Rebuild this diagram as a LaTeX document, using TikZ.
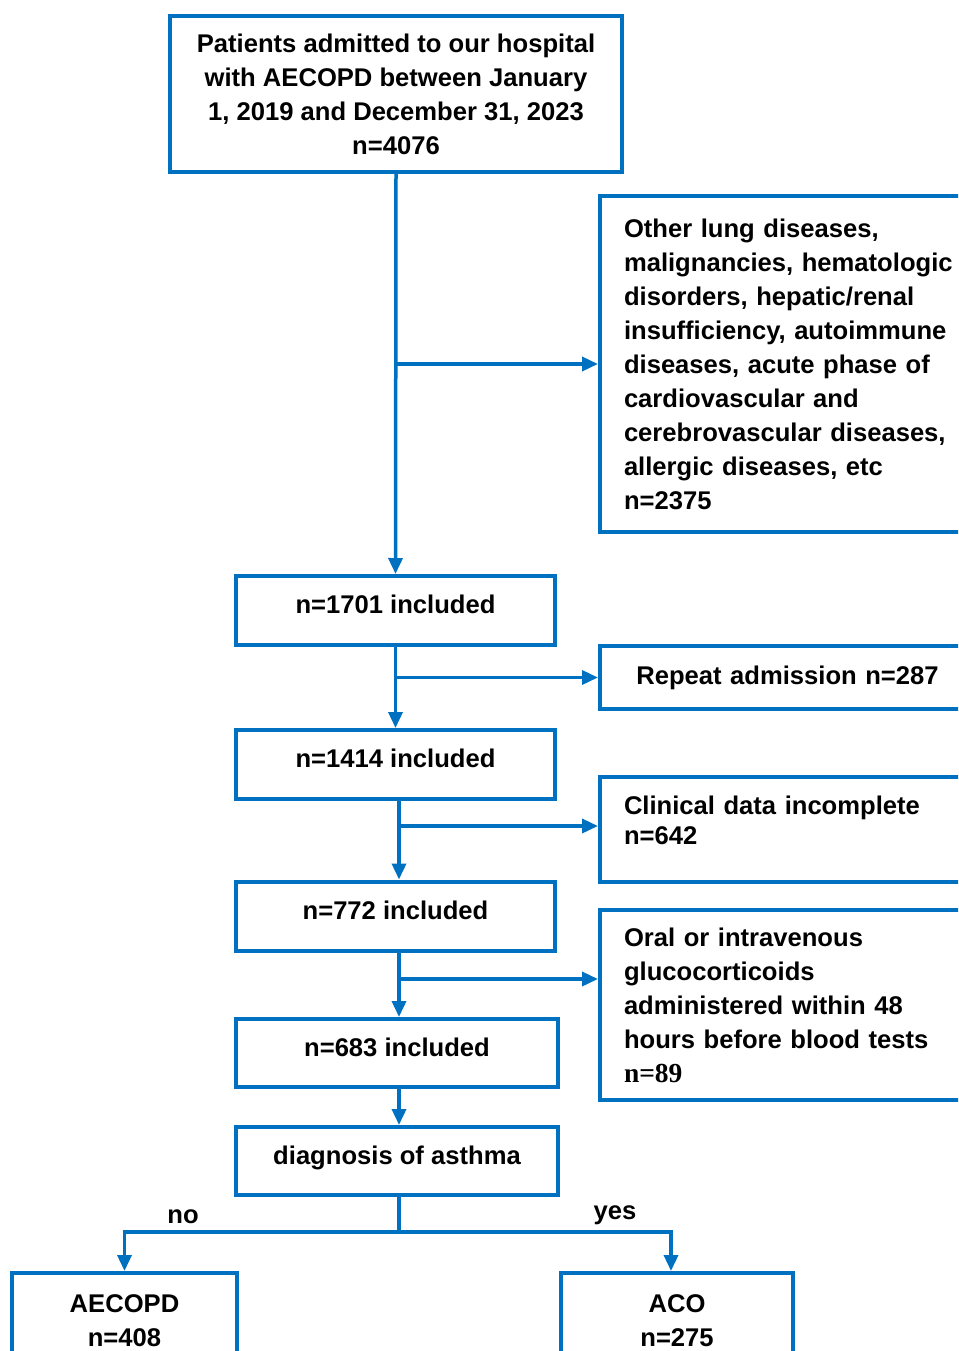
\documentclass[tikz,border=0pt]{standalone}
\usepackage{fontspec}
\setmainfont{Liberation Sans}
\newfontfamily\numserif{Liberation Serif}
\usetikzlibrary{arrows.meta}
\definecolor{flowblue}{RGB}{0,112,192}

\begin{document}
\begin{tikzpicture}[x=1pt,y=1pt,
	font=\fontsize{25.6}{34}\selectfont\bfseries,
	box/.style={draw=flowblue,line width=4pt,align=center,inner sep=0pt},
	incbox/.style={box,minimum height=69pt,text depth=12pt},
	sidebox/.style={draw=flowblue,line width=4pt,anchor=west,text width=360pt,inner xsep=24pt,inner ysep=0pt,align=left},
	link/.style={draw=flowblue,line width=3.5pt},
	arr/.style={link,-{Triangle[length=16pt,width=14pt]}}]
	\path[use as bounding box,clip] (0,0) rectangle (958,-1351);
	\node[box,minimum width=452pt,minimum height=156pt] (top) at (396,-94) {Patients admitted to our hospital\\with AECOPD between January\\1, 2019 and December 31, 2023\\n=4076};
	\node[sidebox,minimum height=336pt] (ex1) at (598,-364) {Other lung diseases,\\malignancies, hematologic\\disorders, hepatic/renal\\insufficiency, autoimmune\\diseases, acute phase of\\cardiovascular and\\cerebrovascular diseases,\\allergic diseases, etc\\n=2375};
	\node[incbox,minimum width=319pt] (n1701) at (395.5,-610.5) {n=1701 included};
	\node[sidebox,text width=327pt,align=center,minimum height=63pt] (rep) at (598,-677.5) {Repeat admission n=287};
	\node[incbox,minimum width=319pt] (n1414) at (395.5,-764.5) {n=1414 included};
	\node[sidebox,minimum height=105pt] (clin) at (598,-829.5) {Clinical data incomplete\\[-4pt]n=642\\[-16pt]\mbox{}};
	\node[incbox,minimum width=319pt] (n772) at (395.5,-916) {n=772 included};
	\node[sidebox,minimum height=190pt] (oral) at (598,-1005) {Oral or intravenous\\glucocorticoids\\administered within 48\\hours before blood tests\\{\numserif\fontsize{27.5}{34}\selectfont n=89}};
	\node[incbox,minimum width=322pt,minimum height=68pt] (n683) at (397,-1053) {n=683 included};
	\node[incbox,minimum width=322pt,minimum height=68pt] (diag) at (397,-1161) {diagnosis of asthma};
	\node[box,anchor=north,minimum width=225pt,minimum height=96pt] (aecopd) at (124.5,-1271) {AECOPD\\n=408};
	\node[box,anchor=north,minimum width=232pt,minimum height=96pt] (aco) at (677,-1271) {ACO\\n=275};
	\coordinate (b3) at (399,-826);
	\coordinate (b4) at (399,-979);
	\coordinate (split) at (399,-1232);
	\draw[arr] (top.south) -- (n1701.north);
	\draw[arr] (top.south |- ex1.west) -- (ex1.west);
	\draw[arr] (n1701.south) -- (n1414.north);
	\draw[arr] (n1701.south |- rep.west) -- (rep.west);
	\draw[arr] ([xshift=3.5pt]n1414.south) -- ([xshift=3.5pt]n772.north);
	\draw[arr] (b3) -- (b3 -| clin.west);
	\draw[arr] ([xshift=3.5pt]n772.south) -- ([xshift=2pt]n683.north);
	\draw[arr] (b4) -- (b4 -| oral.west);
	\draw[arr] ([xshift=2pt]n683.south) -- ([xshift=2pt]diag.north);
	\draw[link] ([xshift=2pt]diag.south) -- (split);
	\draw[arr] (split) -| (aecopd.north);
	\draw[arr] (split) -| ([xshift=-6pt]aco.north);
	\node (no) at (183,-1217) {no};
	\node (yes) at (615,-1215) {yes};
\end{tikzpicture}
\end{document}
